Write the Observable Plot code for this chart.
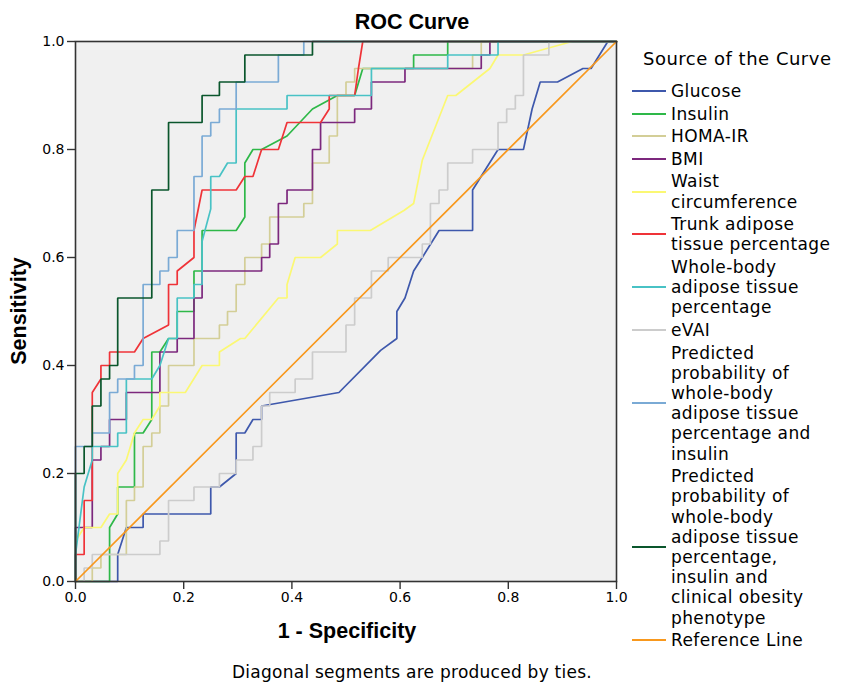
<!DOCTYPE html>
<html><head><meta charset="utf-8">
<script src="https://cdn.jsdelivr.net/npm/d3@7"></script>
<script src="https://cdn.jsdelivr.net/npm/@observablehq/plot@0.6"></script>
<style>
body{margin:0;background:#fff;}
#wrap{position:relative;width:842px;height:683px;overflow:hidden;font-family:"DejaVu Sans",sans-serif;color:#000;}
#wrap svg{position:absolute;left:0;top:0;}
.t{position:absolute;white-space:nowrap;line-height:1;}
.b{font-family:"Liberation Sans",Arial,sans-serif;font-weight:bold;font-size:21.5px;}
#legend{position:absolute;left:632px;top:81px;font-size:17px;letter-spacing:0.4px;}
.item{display:flex;align-items:center;margin-bottom:2.4px;}
.sw{width:34px;height:2px;margin-right:5px;flex:none;}
.lab{line-height:20.2px;white-space:nowrap;}
</style></head><body><div id="wrap"></div><script>
// ---- data (1 - specificity, sensitivity) ----
const seriesNames = ["Glucose","Insulin","HOMA-IR","BMI","Waist circumference","Trunk adipose tissue percentage","Whole-body adipose tissue percentage","eVAI","Predicted probability of whole-body adipose tissue percentage and insulin","Predicted probability of whole-body adipose tissue percentage, insulin and clinical obesity phenotype","Reference Line"];
const legendLabels = ["Glucose","Insulin","HOMA-IR","BMI","Waist<br>circumference","Trunk adipose<br>tissue percentage","Whole-body<br>adipose tissue<br>percentage","eVAI","Predicted<br>probability of<br>whole-body<br>adipose tissue<br>percentage and<br>insulin","Predicted<br>probability of<br>whole-body<br>adipose tissue<br>percentage,<br>insulin and<br>clinical obesity<br>phenotype","Reference Line"];
const seriesColors = ["#3E58AC","#2EB848","#D3CE97","#7C287D","#FBF873","#EF3338","#48C2C5","#CCCCCC","#7AAAD5","#0A562C","#F8981D"];
const axisTicks = [0,0.2,0.4,0.6,0.8,1.0];

const glucose = [[0,0],[.078,0],[.078,.05],[.094,.1],[.125,.1],[.125,.125],[.25,.125],[.25,.175],[.266,.175],[.297,.2],[.297,.275],[.313,.275],[.328,.3],[.344,.3],[.344,.325],[.487,.35],[.564,.428],[.594,.45],[.594,.5],[.609,.525],[.625,.575],[.641,.6],[.672,.65],[.734,.65],[.734,.725],[.781,.8],[.828,.8],[.844,.875],[.859,.925],[.891,.925],[.938,.95],[.953,.95],[.984,1],[1,1]];
const insulin = [[0,0],[.063,0],[.063,.1],[.078,.125],[.078,.175],[.109,.175],[.109,.275],[.125,.275],[.141,.3],[.141,.425],[.156,.425],[.172,.45],[.188,.45],[.188,.5],[.219,.5],[.219,.575],[.234,.575],[.234,.65],[.297,.65],[.313,.675],[.313,.775],[.328,.8],[.344,.8],[.391,.825],[.438,.875],[.484,.9],[.516,.9],[.531,.95],[.625,.95],[.625,.975],[.688,.975],[.688,1],[1,1]];
const homaIR = [[0,0],[.031,0],[.031,.025],[.047,.025],[.047,.05],[.094,.05],[.094,.15],[.109,.15],[.109,.175],[.125,.175],[.125,.25],[.141,.25],[.141,.275],[.156,.275],[.156,.325],[.172,.325],[.172,.4],[.219,.4],[.219,.45],[.266,.45],[.266,.475],[.281,.475],[.281,.5],[.297,.5],[.297,.55],[.313,.55],[.313,.6],[.344,.6],[.344,.625],[.359,.625],[.359,.675],[.422,.675],[.422,.7],[.438,.7],[.438,.775],[.469,.775],[.469,.825],[.484,.825],[.484,.9],[.5,.9],[.5,.925],[.516,.925],[.516,.95],[.734,.95],[.734,.975],[.75,.975],[.75,1],[1,1]];
const bmi = [[0,0],[0,.1],[.031,.1],[.031,.225],[.047,.225],[.047,.25],[.063,.25],[.063,.3],[.094,.3],[.094,.35],[.156,.35],[.156,.425],[.188,.425],[.188,.45],[.219,.45],[.219,.525],[.234,.525],[.234,.575],[.344,.575],[.344,.6],[.359,.6],[.359,.625],[.375,.625],[.375,.7],[.391,.7],[.391,.725],[.438,.725],[.438,.8],[.453,.8],[.453,.85],[.516,.85],[.516,.875],[.547,.875],[.547,.925],[.609,.925],[.609,.95],[.75,.95],[.75,.975],[.766,.975],[.766,1],[1,1]];
const waist = [[0,0],[0,.075],[.016,.1],[.047,.1],[.063,.125],[.078,.125],[.078,.2],[.094,.225],[.109,.275],[.125,.3],[.141,.3],[.156,.325],[.156,.35],[.203,.35],[.234,.4],[.266,.4],[.266,.425],[.305,.45],[.313,.45],[.375,.525],[.391,.525],[.391,.55],[.406,.6],[.453,.6],[.484,.625],[.484,.65],[.545,.65],[.607,.687],[.625,.7],[.641,.78],[.688,.9],[.703,.9],[.766,.95],[.781,.975],[.828,.975],[.918,1],[1,1]];
const trunk = [[0,0],[0,.05],[.016,.05],[.016,.15],[.031,.15],[.031,.35],[.047,.375],[.047,.4],[.063,.4],[.063,.425],[.109,.425],[.125,.45],[.172,.475],[.172,.55],[.188,.55],[.188,.575],[.219,.6],[.219,.65],[.234,.725],[.297,.725],[.313,.75],[.328,.75],[.344,.8],[.375,.8],[.391,.85],[.453,.85],[.469,.875],[.469,.9],[.516,.9],[.523,.95],[.531,1],[1,1]];
const wholeBody = [[0,0],[0,.05],[.016,.175],[.031,.225],[.031,.25],[.078,.25],[.078,.275],[.094,.275],[.094,.375],[.141,.375],[.156,.4],[.172,.45],[.188,.45],[.188,.525],[.219,.525],[.219,.55],[.234,.55],[.234,.63],[.25,.69],[.25,.75],[.266,.75],[.281,.775],[.297,.775],[.297,.875],[.391,.875],[.391,.9],[.547,.9],[.547,.95],[.688,.95],[.688,.975],[.781,.975],[.781,1],[1,1]];
const eVAI = [[0,0],[.016,0],[.016,.025],[.031,.025],[.031,.05],[.156,.05],[.156,.075],[.172,.075],[.172,.15],[.219,.15],[.219,.175],[.266,.175],[.266,.2],[.297,.2],[.297,.225],[.328,.225],[.328,.25],[.344,.25],[.344,.325],[.359,.325],[.359,.35],[.406,.35],[.406,.375],[.438,.375],[.438,.425],[.5,.425],[.5,.475],[.516,.475],[.516,.525],[.547,.525],[.547,.575],[.578,.575],[.578,.6],[.641,.6],[.641,.625],[.656,.625],[.656,.7],[.672,.7],[.672,.725],[.688,.725],[.688,.775],[.734,.775],[.734,.8],[.781,.8],[.781,.85],[.797,.85],[.797,.875],[.813,.875],[.813,.9],[.828,.9],[.828,.975],[.875,.975],[.875,1],[1,1]];
const predWbInsulin = [[0,0],[0,.25],[.031,.25],[.031,.275],[.063,.275],[.063,.35],[.078,.35],[.078,.375],[.109,.375],[.109,.4],[.125,.4],[.125,.55],[.156,.55],[.156,.575],[.172,.575],[.172,.6],[.188,.6],[.188,.65],[.219,.65],[.219,.75],[.234,.75],[.234,.825],[.25,.825],[.25,.85],[.266,.85],[.266,.875],[.297,.875],[.297,.925],[.375,.925],[.375,.975],[.422,.975],[.422,1],[1,1]];
const predWbInsulinPhenotype = [[0,0],[0,.2],[.016,.2],[.016,.25],[.031,.25],[.031,.325],[.047,.325],[.047,.375],[.063,.375],[.063,.4],[.078,.4],[.078,.525],[.141,.525],[.141,.725],[.172,.725],[.172,.85],[.234,.85],[.234,.9],[.266,.9],[.266,.925],[.313,.925],[.313,.975],[.438,.975],[.438,1],[1,1]];
const referenceLine = [[0,0],[1,1]];

const curves = [glucose,insulin,homaIR,bmi,waist,trunk,wholeBody,eVAI,predWbInsulin,predWbInsulinPhenotype,referenceLine];
const rows = curves.flatMap((pts,i)=>pts.map(([fpr,tpr])=>({series:seriesNames[i],fpr,tpr})));

const chart = Plot.plot({
  width: 842, height: 683,
  marginLeft: 75, marginRight: 226, marginTop: 41, marginBottom: 102,
  style: {fontFamily:"DejaVu Sans, sans-serif", fontSize:"14px", background:"transparent", color:"#000"},
  x: {domain:[0,1], label:null},
  y: {domain:[0,1], label:null},
  color: {domain: seriesNames, range: seriesColors},
  marks: [
    Plot.frame({fill:"#F0F0F0", stroke:null}),
    Plot.line(rows, {x:"fpr", y:"tpr", z:"series", stroke:"series", strokeWidth:1.7, strokeLinejoin:"miter"}),
    Plot.frame({stroke:"#333", strokeWidth:1.6}),
    Plot.axisX({ticks:axisTicks, tickFormat:d=>d.toFixed(1), tickSize:8, tickPadding:3, label:null, stroke:"#333", strokeWidth:1.4, fontSize:14}),
    Plot.axisY({ticks:axisTicks, tickFormat:d=>d.toFixed(1), tickSize:8, tickPadding:3, label:null, stroke:"#333", strokeWidth:1.4, fontSize:14})
  ]
});
const wrap = document.getElementById("wrap");
wrap.appendChild(chart);

function addText(html, cls, style){
  const d = document.createElement("div");
  d.className = "t " + cls;
  d.innerHTML = html;
  Object.assign(d.style, style);
  wrap.appendChild(d);
  return d;
}
addText("ROC Curve","b",{left:"0",width:"824px",textAlign:"center",top:"12px"});
addText("1 - Specificity","b",{left:"0",width:"694px",textAlign:"center",top:"621px"});
const yl = addText("Sensitivity","b",{left:"20px",top:"311px",transform:"translate(-50%,-50%) rotate(-90deg)"});
addText("Diagonal segments are produced by ties.","",{left:"0",width:"824px",textAlign:"center",top:"664px",fontSize:"17px",letterSpacing:"0.25px"});
addText("Source of the Curve","",{left:"643px",top:"50px",fontSize:"18px",letterSpacing:"0.5px"});

const legend = document.createElement("div");
legend.id = "legend";
seriesNames.forEach((n,i)=>{
  const it = document.createElement("div");
  it.className = "item";
  it.innerHTML = `<div class="sw" style="background:${seriesColors[i]}"></div><div class="lab">${legendLabels[i]}</div>`;
  legend.appendChild(it);
});
wrap.appendChild(legend);
</script></body></html>
